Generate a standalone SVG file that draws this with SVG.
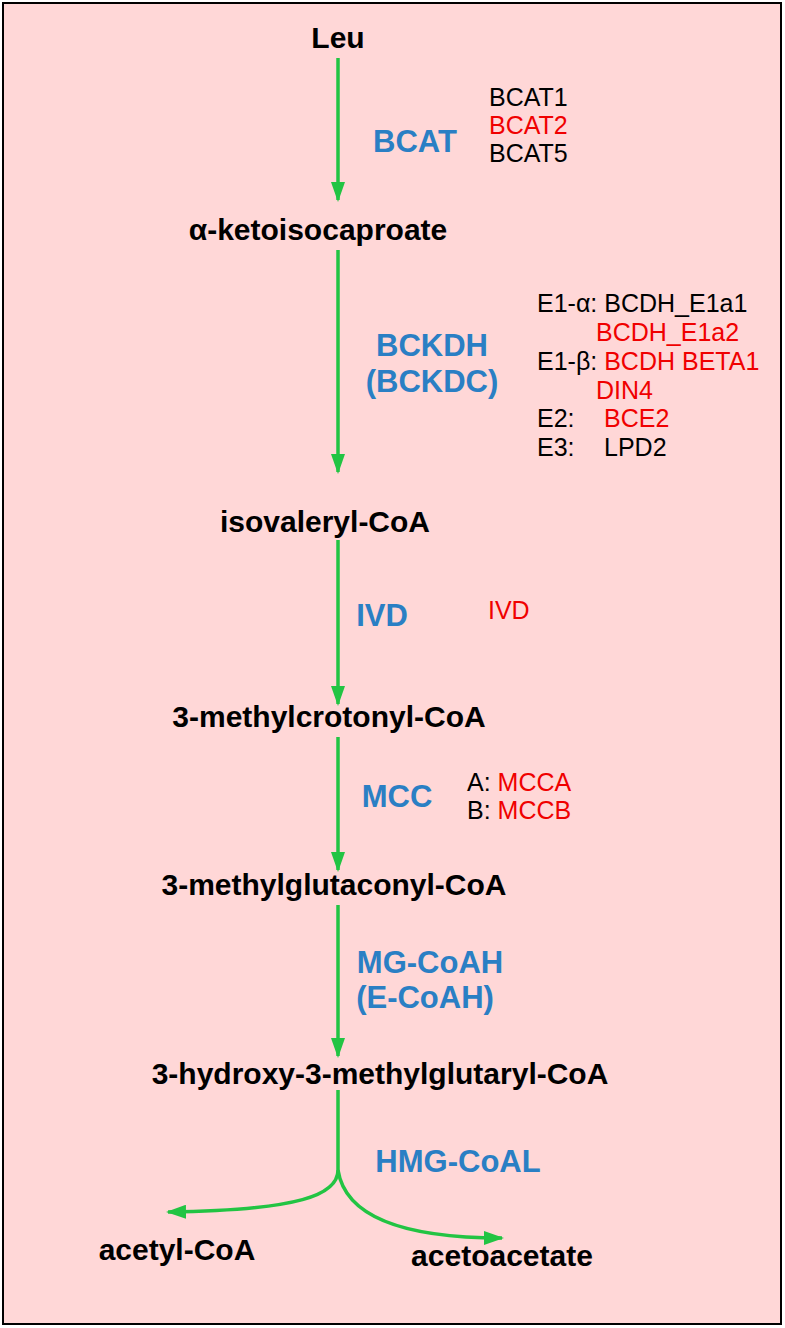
<svg xmlns="http://www.w3.org/2000/svg" width="785" height="1328" viewBox="0 0 785 1328">
<style>
.m{font:bold 30px "Liberation Sans",Arial,sans-serif;fill:#000;text-anchor:middle}
.e{font:bold 31px "Liberation Sans",Arial,sans-serif;fill:#2a7fc4;text-anchor:middle}
.g{font:25px "Liberation Sans",Arial,sans-serif;fill:#000}
.r{fill:#f00000}
.c{stroke:#22c443;stroke-width:3.5;fill:none}
</style>
<defs><marker id="a" viewBox="0 0 20 14" refX="18" refY="7" markerWidth="20" markerHeight="14" orient="auto" markerUnits="userSpaceOnUse"><path d="M0,0L20,7L0,14z" fill="#22c443"/></marker></defs>
<rect x="3" y="3" width="778" height="1321" fill="#ffd7d7" stroke="#000" stroke-width="2"/>
<g id="connectors">
<path class="c" d="M338,58V200" marker-end="url(#a)"/>
<path class="c" d="M338,250V472" marker-end="url(#a)"/>
<path class="c" d="M338,540V704" marker-end="url(#a)"/>
<path class="c" d="M338,737V870" marker-end="url(#a)"/>
<path class="c" d="M338,905V1056" marker-end="url(#a)"/>
<path class="c" d="M338,1090V1170C338,1195 300,1210 168,1212" marker-end="url(#a)"/>
<path class="c" d="M338,1170C345,1215 400,1238 502,1238" marker-end="url(#a)"/>
</g>
<g id="leu"><text class="m" x="338" y="48">Leu</text></g>
<g id="kic"><text class="m" x="318" y="240">α-ketoisocaproate</text></g>
<g id="iva"><text class="m" x="325" y="532">isovaleryl-CoA</text></g>
<g id="mc"><text class="m" x="329" y="727">3-methylcrotonyl-CoA</text></g>
<g id="mg"><text class="m" x="334" y="895">3-methylglutaconyl-CoA</text></g>
<g id="hmg"><text class="m" x="380" y="1084">3-hydroxy-3-methylglutaryl-CoA</text></g>
<g id="ac"><text class="m" x="177" y="1260">acetyl-CoA</text></g>
<g id="aa"><text class="m" x="502" y="1266">acetoacetate</text></g>
<g id="bcat"><text class="e" x="415" y="152">BCAT</text>
<text class="g" x="489" y="106">BCAT1</text><text class="g r" x="489" y="134">BCAT2</text><text class="g" x="489" y="162">BCAT5</text></g>
<g id="bckdh"><text class="e" x="432" y="356">BCKDH</text><text class="e" x="432" y="392">(BCKDC)</text>
<text class="g" x="537" y="312">E1-α: BCDH_E1a1</text>
<text class="g r" x="596" y="341">BCDH_E1a2</text>
<text class="g" x="537" y="370">E1-β: <tspan class="r">BCDH BETA1</tspan></text>
<text class="g r" x="596" y="399">DIN4</text>
<text class="g" x="537" y="427">E2:</text><text class="g r" x="604" y="427">BCE2</text>
<text class="g" x="537" y="456">E3:</text><text class="g" x="604" y="456">LPD2</text></g>
<g id="ivd"><text class="e" x="382" y="626">IVD</text><text class="g r" x="488" y="619">IVD</text></g>
<g id="mcc"><text class="e" x="397" y="807">MCC</text>
<text class="g" x="467" y="791">A: <tspan class="r">MCCA</tspan></text>
<text class="g" x="467" y="819">B: <tspan class="r">MCCB</tspan></text></g>
<g id="mgcoah"><text class="e" x="430" y="973">MG-CoAH</text><text class="e" x="425" y="1008">(E-CoAH)</text></g>
<g id="hmgl"><text class="e" x="458" y="1172">HMG-CoAL</text></g>
</svg>
